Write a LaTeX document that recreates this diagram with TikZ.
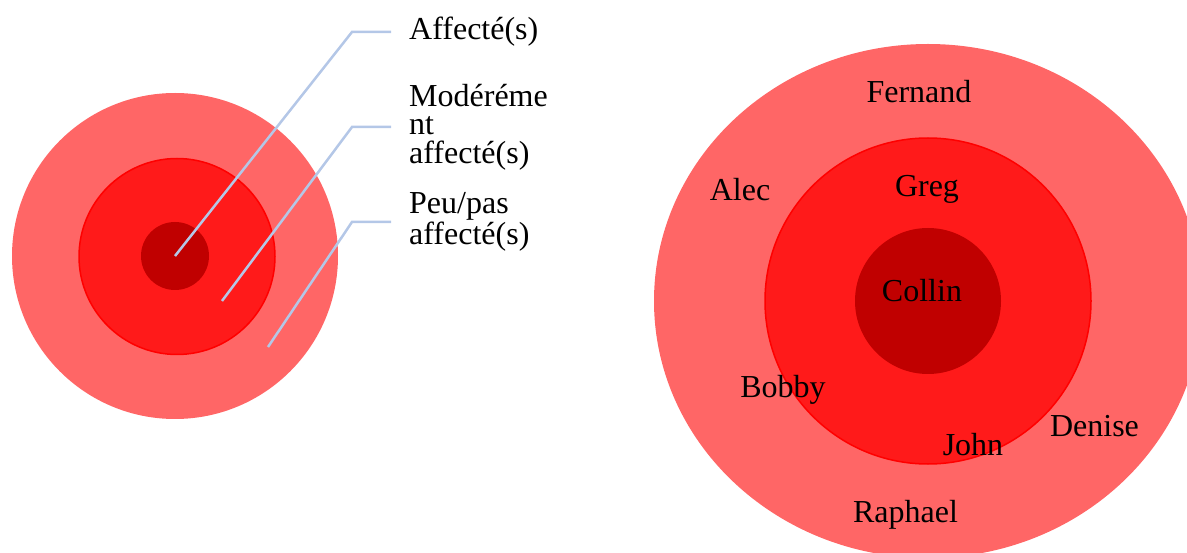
\documentclass[tikz,border=0pt]{standalone}
\usepackage{fontspec}
\setmainfont{Liberation Serif}
\definecolor{ringlight}{RGB}{255,102,102}
\definecolor{ringmid}{RGB}{255,26,26}
\definecolor{ringedge}{RGB}{255,0,0}
\definecolor{ringcore}{RGB}{192,0,0}
\definecolor{leader}{RGB}{180,199,231}
\begin{document}
\begin{tikzpicture}[x=1pt,y=-1pt,
  bigtext/.style={font=\fontsize{32}{28.7}\selectfont, inner sep=0pt},
  keylabel/.style={bigtext, anchor=west, align=left},
  person/.style={bigtext, anchor=base},
  zone light/.style={fill=ringlight},
  zone mid/.style={fill=ringmid, draw=ringedge, line width=1.5pt},
  zone core/.style={fill=ringcore},
  leaderline/.style={draw=leader, line width=2.5pt}]
\useasboundingbox (0,0) rectangle (1187,553);
\clip (0,0) rectangle (1187,553);

% key: concentric zones
\fill[zone light] (175,256) circle[radius=163];
\filldraw[zone mid] (177,256.5) circle[radius=98];
\fill[zone core] (175,256) circle[radius=34];

% key labels
\node[keylabel] (kA) at (409,32) {Affecté(s)};
\node[keylabel] (kM) at (409,127) {Modéréme\\nt\\affecté(s)};
\node[keylabel] (kP) at (409,222) {Peu/pas\\affecté(s)};

% leader lines from each zone to its label
\coordinate (pA) at (175,256);
\coordinate (pM) at (222,301);
\coordinate (pP) at (268,347);
\coordinate (bA) at (352,32);
\coordinate (bM) at (352,127);
\coordinate (bP) at (352,222);
\draw[leaderline] (pA) -- (bA) -- ([xshift=-18pt]kA.west);
\draw[leaderline] (pM) -- (bM) -- ([xshift=-18pt]kM.west);
\draw[leaderline] (pP) -- (bP) -- ([xshift=-18pt]kP.west);

% people placed by zone
\fill[zone light] (928,301) ellipse[x radius=274, y radius=257];
\filldraw[zone mid] (928,301) circle[radius=163];
\fill[zone core] (928,301) circle[radius=73];

\node[person] (fernand) at (919,103) {Fernand};
\node[person] (alec) at (740,201) {Alec};
\node[person] (greg) at (927,197) {Greg};
\node[person] (collin) at (922,302) {Collin};
\node[person] (bobby) at (783,398) {Bobby};
\node[person] (john) at (973,455) {John};
\node[person] (denise) at (1094.5,436) {Denise};
\node[person] (raphael) at (905.5,522) {Raphael};
\end{tikzpicture}
\end{document}
